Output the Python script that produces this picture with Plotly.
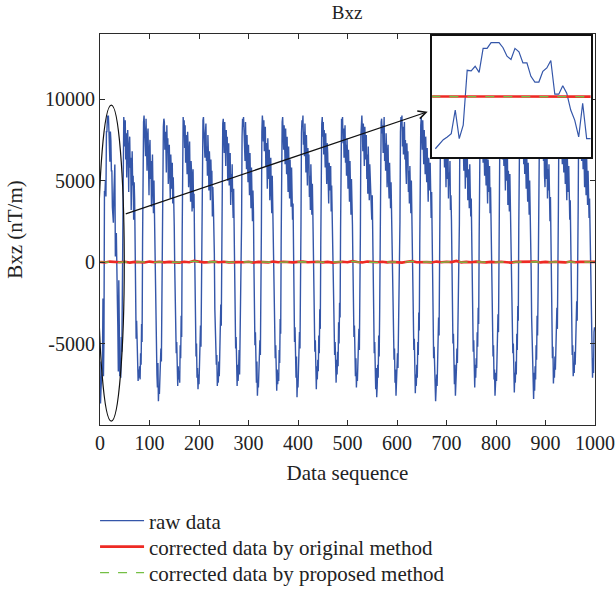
import plotly.graph_objects as go

# Raw Bxz gradient readings, one value per sample (nT/m)
raw_data = [
    # 0-39
    -6100, -8680, -7840, -7170, -6720, -6160, -2240, -7000, -4760, 4370, 4260, 5040, 4030, 8010, 8010, 8960, 8960, 8960, 8120, 6720,
    6160, 8010, 7450, 5600, 5600, 3360, 2410, 2410, 4200, 4760, 5990, 390, 390, 1790, 560, -2240, -3920, -6720, -1120, -7000,
    # 40-79
    -7000, -6300, -7100, -4600, -5500, -2400, 2600, 8200, 8900, 8400, 7100, 8700, 6300, 7900, 5200, 7400, 8100, 6600, 4300, 7000,
    7700, 5800, 6400, 3200, 5900, 6800, 4700, 5300, 2600, 4900, 3800, 900, -2200, -4700, -3600, -6100, -5400, -7300, -6600, -7100,
    # 80-119
    -6400, -7200, -5600, -6300, -3800, -4900, 1200, 7600, 8600, 9000, 7800, 8300, 6500, 8800, 7200, 5600, 7700, 8200, 6000, 4100,
    6900, 7500, 5100, 6200, 3400, 5700, 6600, 4400, 3000, 5000, 2900, 200, -3000, -5200, -4400, -6900, -7700, -6200, -8540, -7600,
    # 120-159
    -8100, -6800, -7400, -5300, -6100, -2900, 2100, 7400, 8300, 8800, 8600, 6900, 8000, 7300, 5500, 8400, 6700, 7600, 4800, 6300,
    7200, 5300, 3900, 6600, 5800, 4500, 6100, 3600, 5200, 4100, 2200, -400, -2700, -4100, -5600, -4900, -6800, -7600, -6400, -7200,
    # 160-199
    -6700, -7400, -5100, -5900, -3300, -4600, 1600, 7900, 8900, 8200, 8700, 7000, 8400, 6100, 7800, 6800, 5400, 8000, 7100, 4600,
    6500, 7400, 5000, 3700, 6200, 5500, 3100, 4800, 5700, 3300, 4200, 1100, -2400, -4400, -5800, -5000, -7100, -6500, -7800, -6900,
    # 200-239
    -7500, -5800, -6600, -3900, -5200, -2200, 2800, 8100, 8700, 8900, 7600, 8200, 6400, 7900, 8500, 6200, 7100, 5300, 7800, 6600,
    4400, 6800, 5900, 3800, 6300, 4900, 5600, 2800, 4600, 3500, 2400, 500, -2900, -4600, -3800, -6300, -5700, -7600, -6800, -7400,
    # 240-279
    -6100, -7000, -4700, -5600, -2600, -3900, 900, 7300, 8500, 8800, 8000, 6700, 8600, 7400, 5900, 8100, 6900, 7700, 5000, 6400,
    7300, 4700, 5800, 6700, 3500, 5400, 4300, 6000, 3900, 2700, 4500, 800, -2000, -3700, -5300, -4600, -6700, -7600, -6300, -7300,
    # 280-319
    -6600, -5400, -6900, -4200, -5000, -2300, 2400, 7700, 8800, 8300, 8900, 7500, 8000, 6200, 8600, 7100, 5700, 7800, 6500, 4900,
    7200, 6000, 4100, 6700, 5200, 3300, 5800, 4600, 2500, 4400, 3100, -300, -3300, -5100, -4300, -6600, -7400, -6100, -8200, -7300,
    # 320-359
    -7700, -6500, -7100, -4800, -5700, -3200, 1900, 8000, 9000, 8500, 7400, 8700, 6800, 7900, 8300, 5900, 7300, 6600, 4500, 7600,
    6200, 5100, 6900, 3800, 5500, 6400, 4200, 3000, 5300, 3700, 2100, 400, -2600, -4500, -5900, -5100, -7000, -7900, -6600, -7500,
    # 360-399
    -6800, -7300, -5400, -6200, -3500, -4400, 1300, 7500, 8600, 8900, 8100, 6900, 8400, 7600, 6000, 8200, 7000, 5400, 7700, 6500,
    4300, 7100, 5600, 3900, 6300, 5000, 3400, 5800, 4100, 2600, 3600, 600, -2800, -4900, -4000, -6400, -7100, -5800, -8300, -7200,
    # 400-439
    -7700, -6200, -6900, -4300, -5300, -2700, 2200, 7900, 8700, 8400, 9000, 7200, 8000, 6500, 8500, 7300, 5500, 7800, 6800, 4700,
    7000, 5900, 6600, 4000, 5300, 3200, 6000, 4600, 2900, 4800, 3000, 100, -3100, -4700, -5500, -4800, -6900, -7800, -6400, -7200,
    # 440-479
    -6000, -6700, -4500, -5600, -2900, -4100, 1000, 7200, 8500, 8900, 7700, 8600, 6600, 8100, 7400, 5800, 7900, 6300, 4800, 7300,
    6700, 5000, 3600, 6100, 5400, 4400, 5900, 3100, 4700, 2400, 3500, 700, -2300, -4200, -5700, -4900, -6500, -7400, -6000, -6900,
    # 480-519
    -5500, -6400, -3700, -5000, -2500, -3400, 2000, 7800, 8800, 8300, 8900, 7300, 8200, 6400, 7700, 8400, 6100, 7200, 5300, 7600,
    6500, 4500, 6900, 5600, 3700, 6200, 4900, 2900, 5100, 4000, 2300, -200, -2800, -4600, -3900, -6200, -7000, -5900, -7700, -6800,
    # 520-559
    -7300, -5900, -6600, -4100, -5400, -2600, 1700, 7700, 8700, 9000, 8100, 6800, 8500, 7500, 5900, 8300, 7000, 6300, 7800, 5100,
    6600, 4200, 7100, 5500, 3800, 6000, 4700, 5300, 3300, 2600, 4100, 900, -2500, -4800, -5600, -4900, -7000, -7800, -6500, -8300,
    # 560-599
    -7600, -6300, -7100, -4500, -5800, -3000, 1400, 7400, 8600, 8800, 7900, 8400, 6700, 7700, 8900, 6200, 7300, 5600, 7900, 6900,
    4600, 6400, 7200, 5000, 3900, 6100, 5200, 3300, 4900, 2800, 3700, 300, -2900, -4300, -6000, -5300, -7400, -6600, -8200, -7500,
    # 600-639
    -7000, -5600, -6500, -3800, -4900, -2400, 2500, 8000, 8900, 8500, 9000, 7100, 8300, 6600, 7800, 8600, 6300, 7500, 5700, 4800,
    7300, 6100, 6800, 4300, 5600, 3600, 5900, 4400, 3000, 5000, 2500, 600, -2600, -4400, -5400, -4700, -6800, -8050, -6900, -7600,
    # 640-679
    -6300, -7100, -4900, -5700, -3100, -4200, 1100, 7600, 8400, 8900, 8200, 6900, 8700, 7400, 6000, 8100, 7200, 5400, 7700, 6500,
    4900, 7000, 5800, 3700, 6400, 5300, 4400, 6100, 3400, 2700, 4300, 500, -3000, -4900, -5900, -5200, -7400, -6700, -8540, -7800,
    # 680-719
    -6900, -7600, -5200, -6100, -3400, -4500, 1800, 7900, 8800, 8400, 8900, 7300, 8000, 6400, 8600, 7600, 5800, 7900, 6700, 4600,
    7200, 6000, 5100, 6800, 3900, 5500, 4700, 6200, 3200, 4100, 2600, -100, -3200, -5000, -4400, -6700, -7500, -6300, -8200, -7400,
    # 720-759
    -6600, -5300, -6200, -3700, -4800, -2500, 2300, 8100, 9000, 8600, 7800, 8700, 6500, 8200, 7100, 5600, 7600, 6900, 4500, 7400,
    6300, 5200, 6700, 3800, 5700, 4900, 3300, 6000, 4200, 2800, 3900, 800, -2200, -4100, -5500, -4800, -6900, -7700, -6300, -7100,
    # 760-799
    -5900, -6500, -4300, -5200, -2800, -3800, 1500, 7500, 8500, 8900, 8300, 7100, 8600, 7400, 6100, 8000, 6800, 5300, 7700, 6400,
    4700, 7100, 5800, 3600, 6300, 5100, 4300, 5900, 3000, 4600, 2700, 400, -2700, -4600, -5800, -5100, -7200, -6600, -8200, -7500,
    # 800-839
    -6800, -7300, -5000, -5900, -3200, -4300, 1900, 7800, 8700, 8300, 9000, 7600, 8100, 6300, 8500, 7200, 5900, 7800, 6600, 4400,
    7000, 6100, 5000, 6700, 3500, 5600, 4500, 3100, 5400, 3800, 2300, 200, -2900, -4700, -5600, -5000, -7100, -8000, -6800, -7400,
    # 840-879
    -6100, -6900, -4400, -5400, -2700, -3600, 2100, 7700, 8800, 8600, 8900, 7200, 8200, 6500, 7700, 8400, 6000, 7300, 5400, 7900,
    6300, 4500, 6800, 5500, 3700, 6100, 4800, 2900, 5000, 3400, 2200, -500, -3400, -5300, -4600, -7100, -8400, -6800, -7900, -6400,
    # 880-919
    -7200, -5100, -6000, -3300, -4500, -1900, 2900, 8000, 8900, 8400, 8700, 7000, 8300, 6600, 7800, 8500, 6200, 7400, 5300, 4600,
    7200, 6400, 5100, 6900, 3900, 5700, 4400, 6000, 3200, 2500, 4000, 300, -2600, -4400, -5900, -5200, -7450, -6500, -7100, -5800,
    # 920-959
    -6600, -4700, -5600, -2800, -4100, -1500, 3100, 8300, 8700, 9000, 8100, 6800, 8500, 7500, 6000, 8200, 7100, 5500, 7700, 6400,
    4800, 7000, 5800, 3800, 6500, 5200, 4300, 5900, 3300, 2600, 3800, 200, -2800, -4700, -5700, -5100, -7000, -6200, -6800, -5500,
    # 960-999
    -6300, -4300, -5300, -2400, -3600, -1300, 3300, 8400, 8800, 8500, 8900, 7300, 8000, 6200, 8600, 7200, 5700, 7800, 6500, 4600,
    7100, 5900, 4100, 6600, 5000, 3500, 5600, 4300, 2700, 3900, 2000, -800, -3600, -5400, -6500, -7100, -5900, -6800, -4300, -4000,
]
raw_seq = list(range(len(raw_data)))

# Corrected series, sampled every 10 points
corr_seq = list(range(0, 1001, 10))
corr_original = [
    10, -20, 30, 0, -10, 20, -30, 10, 0, -20,
    30, -10, 20, -20, 10, 0, -30, 20, -10, 70,
    10, -20, 0, 30, -10, 20, -20, 10, 0, -10,
    20, -30, 10, 0, -20, 30, -10, 20, 0, -20,
    10, 30, -10, 0, 20, -20, 10, -30, 0, 20,
    -10, 60, 10, -20, 30, 0, -10, 20, -20, 10,
    0, -30, 20, 60, -10, 10, 0, -20, 30, -10,
    20, 0, 70, -20, 10, -10, 30, 0, -20, 10,
    -10, 20, 0, -30, 10, 20, -10, 0, 30, -20,
    10, -10, 20, 0, -20, 30, -10, 10, 0, -20,
    10,
]
corr_proposed = [
    0, -10, 20, 10, -20, 10, -20, 0, 10, -10,
    20, -20, 10, -10, 0, 10, -20, 10, 0, 60,
    0, -10, 10, 20, -20, 10, -10, 0, 10, -20,
    10, -20, 0, 10, -10, 20, -20, 10, 10, -10,
    0, 20, -20, 10, 10, -10, 0, -20, 10, 10,
    -20, 50, 0, -10, 20, 10, -20, 10, -10, 0,
    10, -20, 10, 50, -20, 0, 10, -10, 20, -20,
    10, 10, 60, -10, 0, -20, 20, 10, -10, 0,
    -20, 10, 10, -20, 0, 10, -20, 10, 20, -10,
    0, -20, 10, 10, -10, 20, -20, 0, 10, -10,
    0,
]

# Samples shown enlarged in the inset
inset_first, inset_last = 1, 40

x_ticks = [0, 100, 200, 300, 400, 500, 600, 700, 800, 900, 1000]
y_ticks = [-5000, 0, 5000, 10000]
y_tick_text = ["-5000", "0", "5000", "10000"]

RAW_BLUE = "#3456a9"
RED = "#ee2a24"
GREEN = "#74bf44"
FONT = "Liberation Serif"
INK = "#222222"

fig = go.Figure()

fig.add_trace(go.Scatter(x=raw_seq, y=raw_data, mode="lines", name="raw data",
                         line=dict(color=RAW_BLUE, width=1.4), legend="legend"))
fig.add_trace(go.Scatter(x=corr_seq, y=corr_original, mode="lines",
                         name="corrected data by original method",
                         line=dict(color=RED, width=2.6), legend="legend2"))
fig.add_trace(go.Scatter(x=corr_seq, y=corr_proposed, mode="lines",
                         name="corrected data by proposed method",
                         line=dict(color=GREEN, width=1.4, dash="dash"), legend="legend3"))

# Inset: close-up of the first cycle
n_inset = sum(1 for s in corr_seq if s <= inset_last)
fig.add_trace(go.Scatter(x=raw_seq[inset_first:inset_last + 1],
                         y=raw_data[inset_first:inset_last + 1],
                         mode="lines", showlegend=False,
                         line=dict(color=RAW_BLUE, width=1.2),
                         xaxis="x2", yaxis="y2"))
fig.add_trace(go.Scatter(x=corr_seq[:n_inset], y=corr_original[:n_inset],
                         mode="lines", showlegend=False,
                         line=dict(color=RED, width=2.6),
                         xaxis="x2", yaxis="y2"))
fig.add_trace(go.Scatter(x=corr_seq[:n_inset], y=corr_proposed[:n_inset],
                         mode="lines", showlegend=False,
                         line=dict(color=GREEN, width=1.4, dash="dash"),
                         xaxis="x2", yaxis="y2"))

axis_common = dict(showline=True, mirror="ticks", linecolor="#2b2b2b", linewidth=1,
                   ticks="inside", ticklen=5, tickcolor="#2b2b2b", showgrid=False,
                   zeroline=False, automargin=False,
                   tickfont=dict(family=FONT, size=20, color=INK))

legend_style = dict(x=-0.01, xanchor="left", yanchor="middle",
                    font=dict(family=FONT, size=21, color=INK),
                    itemwidth=44, bgcolor="rgba(0,0,0,0)")

fig.update_layout(
    width=616, height=590,
    margin=dict(l=100, r=21, t=34, b=165, autoexpand=False),
    paper_bgcolor="white", plot_bgcolor="white",
    title=dict(text="Bxz", x=0.5635, xanchor="center", y=0.979, yanchor="middle",
               font=dict(family=FONT, size=19, color=INK)),
    xaxis=dict(range=[0, 1000], tickvals=x_ticks, domain=[0, 1],
               title=dict(text="Data sequence", standoff=12,
                          font=dict(family=FONT, size=21, color=INK)),
               **axis_common),
    yaxis=dict(range=[-10000, 14000], tickvals=y_ticks, ticktext=y_tick_text,
               domain=[0, 1],
               title=dict(text="Bxz (nT/m)", standoff=16,
                          font=dict(family=FONT, size=21, color=INK)),
               **axis_common),
    xaxis2=dict(domain=[0.671, 0.992], range=[0.2, 40.1], anchor="y2",
                showline=True, mirror=True, linecolor="#111", linewidth=2,
                showticklabels=False, ticks="", showgrid=False, zeroline=False),
    yaxis2=dict(domain=[0.685, 0.995], range=[-10080, 10080], anchor="x2",
                showline=True, mirror=True, linecolor="#111", linewidth=2,
                showticklabels=False, ticks="", showgrid=False, zeroline=False),
    legend=dict(y=-0.2455, **legend_style),
    legend2=dict(y=-0.312, **legend_style),
    legend3=dict(y=-0.3785, **legend_style),
    showlegend=True,
)

# Ellipse marking the enlarged region, with an arrow to the inset
fig.add_shape(type="circle", xref="x", yref="y", x0=-3.4, x1=49, y0=-9760, y1=9630,
              line=dict(color="#111", width=1.2))
fig.add_annotation(x=662, y=9226, ax=49, ay=2930, xref="x", yref="y",
                   axref="x", ayref="y", text="", showarrow=True,
                   arrowhead=5, arrowsize=1.3, arrowwidth=1.2, arrowcolor="#111",
                   standoff=0, startstandoff=0)

fig.write_html("out.html")
